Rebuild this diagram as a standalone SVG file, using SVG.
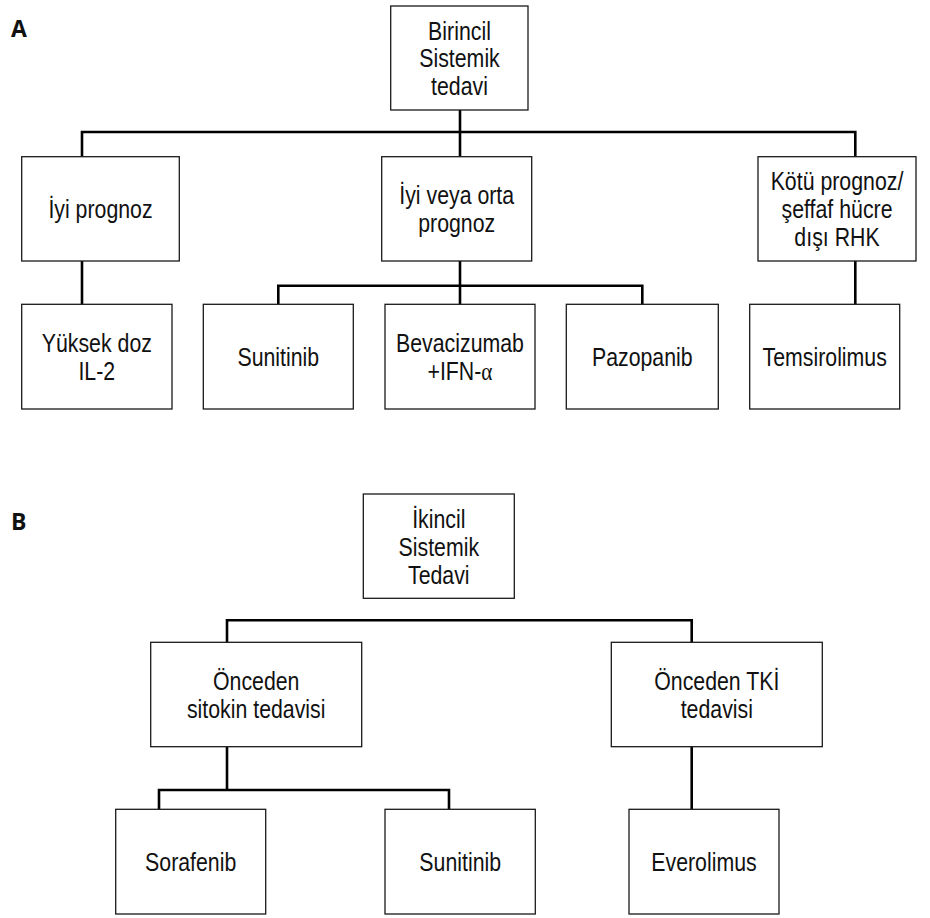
<svg xmlns="http://www.w3.org/2000/svg" width="930" height="918" viewBox="0 0 930 918">
<style>
.box{fill:#fff;stroke:#1a1a1a;stroke-width:1.3}
.t{font-family:"Liberation Sans",Arial,sans-serif;font-size:26px;fill:#111;text-anchor:middle}
.lbl{font-family:"Open Sans","Liberation Sans",Arial,sans-serif;font-size:23px;font-weight:bold;fill:#111}
.c{fill:none;stroke:#000;stroke-width:2.6}
</style>
<rect width="930" height="918" fill="#fff"/>
<text class="lbl" x="11" y="37">A</text>
<text class="lbl" x="11" y="530">B</text>
<g id="connectors">
<path class="c" d="M460 110V156.7M82 156.7V132H855.3V156.7M82 261V304.3M460 261V304.3M278.3 304.3V285.7H642.3V304.3M855.3 261V304.3"/>
<path class="c" d="M227 642.3V620.3H691.7V642.3M227 746.7V790M159 809.3V790H449V809.3M691.7 746.7V809.3"/>
</g>
<g id="a_root"><rect class="box" x="390.7" y="6" width="137.3" height="104"/><text class="t" transform="translate(459.5 39.5) scale(0.82 1)">Birincil</text><text class="t" transform="translate(459.5 67) scale(0.82 1)">Sistemik</text><text class="t" transform="translate(459.5 95) scale(0.82 1)">tedavi</text></g>
<g id="a_iyi"><rect class="box" x="21.7" y="156.7" width="157.6" height="104.3"/><text class="t" transform="translate(100.5 218) scale(0.82 1)">İyi prognoz</text></g>
<g id="a_orta"><rect class="box" x="381.7" y="156.7" width="150" height="104.3"/><text class="t" transform="translate(456.7 204.3) scale(0.82 1)">İyi veya orta</text><text class="t" transform="translate(456.7 232) scale(0.82 1)">prognoz</text></g>
<g id="a_kotu"><rect class="box" x="758" y="156.7" width="158" height="104.3"/><text class="t" transform="translate(837 189.5) scale(0.82 1)">Kötü prognoz/</text><text class="t" transform="translate(837 217.7) scale(0.82 1)">şeffaf hücre</text><text class="t" transform="translate(837 246) scale(0.82 1)">dışı RHK</text></g>
<g id="a_il2"><rect class="box" x="21.7" y="304.3" width="150.3" height="104.7"/><text class="t" transform="translate(96.8 352) scale(0.82 1)">Yüksek doz</text><text class="t" transform="translate(96.8 379.5) scale(0.82 1)">IL-2</text></g>
<g id="a_sunitinib"><rect class="box" x="203.3" y="304.3" width="150" height="104.7"/><text class="t" transform="translate(278.3 365.5) scale(0.82 1)">Sunitinib</text></g>
<g id="a_bev"><rect class="box" x="385" y="304.3" width="150" height="104.7"/><text class="t" transform="translate(460 352) scale(0.82 1)">Bevacizumab</text><text class="t" transform="translate(460 379.5) scale(0.82 1)">+IFN-<tspan font-family="Liberation Serif,serif">α</tspan></text></g>
<g id="a_pazopanib"><rect class="box" x="566.3" y="304.3" width="152" height="104.7"/><text class="t" transform="translate(642.3 365.5) scale(0.82 1)">Pazopanib</text></g>
<g id="a_tems"><rect class="box" x="749.7" y="304.3" width="150" height="104.7"/><text class="t" transform="translate(824.7 365.5) scale(0.82 1)">Temsirolimus</text></g>
<g id="b_root"><rect class="box" x="363.3" y="494" width="151" height="104.3"/><text class="t" transform="translate(438.8 527.5) scale(0.82 1)">İkincil</text><text class="t" transform="translate(438.8 555.5) scale(0.82 1)">Sistemik</text><text class="t" transform="translate(438.8 584) scale(0.82 1)">Tedavi</text></g>
<g id="b_sitokin"><rect class="box" x="150.7" y="642.3" width="211" height="104.4"/><text class="t" transform="translate(256.2 689.5) scale(0.82 1)">Önceden</text><text class="t" transform="translate(256.2 717.5) scale(0.82 1)">sitokin tedavisi</text></g>
<g id="b_tki"><rect class="box" x="611.3" y="642.3" width="211" height="104.4"/><text class="t" transform="translate(716.8 689.5) scale(0.82 1)">Önceden TKİ</text><text class="t" transform="translate(716.8 717.5) scale(0.82 1)">tedavisi</text></g>
<g id="b_sorafenib"><rect class="box" x="115.7" y="809.3" width="150" height="104.7"/><text class="t" transform="translate(190.7 870.5) scale(0.82 1)">Sorafenib</text></g>
<g id="b_sunitinib"><rect class="box" x="385" y="809.3" width="150.3" height="104.7"/><text class="t" transform="translate(460.2 870.5) scale(0.82 1)">Sunitinib</text></g>
<g id="b_everolimus"><rect class="box" x="629" y="809.3" width="150" height="104.7"/><text class="t" transform="translate(704 870.5) scale(0.82 1)">Everolimus</text></g>
</svg>
